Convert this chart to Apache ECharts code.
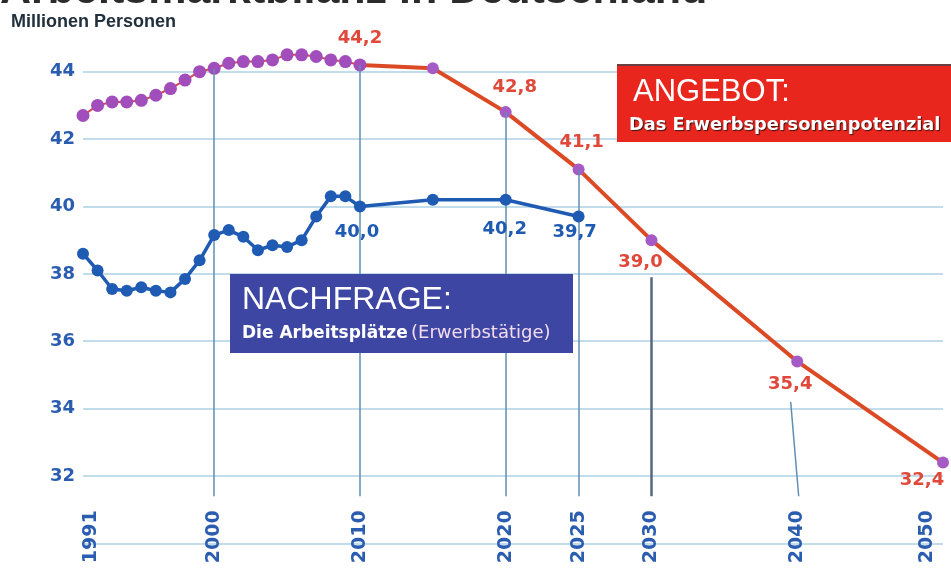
<!DOCTYPE html>
<html>
<head>
<meta charset="utf-8">
<script src="https://cdn.jsdelivr.net/npm/echarts@6/dist/echarts.min.js"></script>
<style>
html,body{margin:0;padding:0;background:#fff;}
#chart{width:951px;height:570px;}
</style>
</head>
<body>
<div id="chart"></div>
<script>
// ---- data ----
const histYears = [1991,1992,1993,1994,1995,1996,1997,1998,1999,2000,2001,2002,2003,2004,2005,2006,2007,2008,2009,2010];
const supplyHist = [42.7,43.0,43.1,43.1,43.15,43.3,43.5,43.75,44.0,44.1,44.25,44.3,44.3,44.35,44.5,44.5,44.45,44.35,44.3,44.2];
const demandHist = [38.6,38.1,37.55,37.5,37.6,37.5,37.45,37.85,38.4,39.15,39.3,39.1,38.7,38.85,38.8,39.0,39.7,40.3,40.3,40.0];
const supplyProjYears = [2010,2015,2020,2025,2030,2040,2050];
const supplyProj = [44.2,44.1,42.8,41.1,39.0,35.4,32.4];
const demandProjYears = [2015,2020,2025];
const demandProj = [40.2,40.2,39.7];
const xLabelYears = [1991,2000,2010,2020,2025,2030,2040,2050];
const guideYears = [2000,2010,2020,2025,2030,2040];
const supplyLabelYears = [2010,2020,2025,2030,2040,2050];
const demandLabelYears = [2010,2020,2025];
const titleText = 'Arbeitsmarktbilanz in Deutschland';
const unitText = 'Millionen Personen';

// ---- styling ----
const supplyLabelOffset = {2010:[0,-27],2020:[9,-25],2025:[3,-27],2030:[-11,22],2040:[-7,23],2050:[-21,18]};
const demandLabelOffset = {2010:[-3,26],2020:[-1,30],2025:[-4,16]};
const guideBottom = 31.4;
const fmt = v => v.toFixed(1).replace('.', ',');

const RED = '#e0483a', BLUE = '#1f5bb3', PURPLE = '#a14dbb';
const labelBase = {fontFamily:'DejaVu Sans', fontWeight:'bold', fontSize:18};

const supplyAll = {};
histYears.forEach((y,i)=>supplyAll[y]=supplyHist[i]);
supplyProjYears.forEach((y,i)=>supplyAll[y]=supplyProj[i]);

function mkPoint(year, value, offsets, color){
  const item = {value:[year, value]};
  if (offsets[year]) {
    item.label = Object.assign({show:true, position:'inside', offset:offsets[year], color:color,
      formatter: p => fmt(p.value[1])}, labelBase);
  }
  return item;
}

const supplyHistData = histYears.map((y,i)=> mkPoint(y, supplyHist[i], y===2010?supplyLabelOffset:{}, RED));
const supplyProjData = supplyProjYears.map((y,i)=> mkPoint(y, supplyProj[i], y===2010?{}:supplyLabelOffset, RED));
const demandYears = histYears.concat(demandProjYears);
const demandVals = demandHist.concat(demandProj);
const demandData = demandYears.map((y,i)=> mkPoint(y, demandVals[i], demandLabelOffset, BLUE));

// leader lines start below labels where a label sits under the point
const guideData = guideYears.map(y => {
  if (y === 2040) {
    return [{coord:[y-0.45, supplyAll[y]-1.2]},{coord:[y+0.1, guideBottom]}];
  }
  if (y === 2030) {
    return [{coord:[y, supplyAll[y]-1.1], lineStyle:{color:'#56697a', width:2.5}},{coord:[y, guideBottom]}];
  }
  return [{coord:[y, supplyAll[y]]},{coord:[y, guideBottom]}];
});

const gridColors = ['#acd0e4','#acd0e4','#acd0e4','#acd0e4','#acd0e4','#acd0e4','#acd0e4','#acd0e4','rgba(0,0,0,0)'];

const chart = echarts.init(document.getElementById('chart'), null, {renderer:'canvas'});
const option = {
  animation:false,
  backgroundColor:'#ffffff',
  grid:{left:83, right:8, top:4.3, bottom:26.6, containLabel:false},
  xAxis:{
    type:'value', min:1991, max:2050,
    splitLine:{show:false}, axisLine:{show:false, onZero:false}, axisTick:{show:false},
    axisLabel:{
      customValues:xLabelYears, rotate:90, margin:-33,
      color:'#2a5cb0', fontFamily:'DejaVu Sans', fontWeight:'bold', fontSize:19,
      formatter: v => v===1991 ? '{a|1991}' : (v===2050 ? '{b|2050}' : '{c|'+v+'}'),
      rich:{
        a:{color:'#2a5cb0', fontFamily:'DejaVu Sans', fontWeight:'bold', fontSize:19, padding:[16,0,0,0]},
        b:{color:'#2a5cb0', fontFamily:'DejaVu Sans', fontWeight:'bold', fontSize:19, padding:[0,0,32,0]},
        c:{color:'#2a5cb0', fontFamily:'DejaVu Sans', fontWeight:'bold', fontSize:19}
      }
    }
  },
  yAxis:{
    type:'value', min:30, max:46, interval:2,
    axisLine:{show:false}, axisTick:{show:false},
    splitLine:{show:true, lineStyle:{color:gridColors, width:1.5}},
    axisLabel:{margin:8, color:'#2a5cb0', fontFamily:'DejaVu Sans', fontWeight:'bold', fontSize:18,
      formatter: v => (v===30||v===46) ? '' : String(v)}
  },
  series:[
    {
      type:'line', name:'guides', data:[], silent:true, z:1,
      markLine:{silent:true, symbol:['none','none'], label:{show:false},
        lineStyle:{color:'#5f8fb2', width:1.5, type:'solid'}, data:guideData}
    },
    {
      type:'line', name:'Angebot (Projektion)', data:supplyProjData, z:3,
      symbol:'circle', symbolSize:12, showAllSymbol:true,
      itemStyle:{color:'#a65ac6'}, lineStyle:{color:'#dc4a25', width:4}
    },
    {
      type:'line', name:'Angebot', data:supplyHistData, z:4,
      symbol:'circle', symbolSize:13, showAllSymbol:true,
      itemStyle:{color:PURPLE}, lineStyle:{color:'#d8474a', width:2}
    },
    {
      type:'line', name:'Nachfrage', data:demandData, z:5,
      symbol:'circle', symbolSize:12, showAllSymbol:true,
      itemStyle:{color:BLUE}, lineStyle:{color:BLUE, width:3.5}
    }
  ],
  graphic:[
    {type:'text', x:0, y:13, z:10, style:{text:titleText, font:'bold 43px "Liberation Sans"', fill:'#2b2b2b', verticalAlign:'bottom'}},
    {type:'text', x:11, y:22, z:10, style:{text:unitText, font:'bold 18px "Liberation Sans"', fill:'#22303e', verticalAlign:'middle'}},
    {type:'rect', z:10, shape:{x:617, y:65, width:340, height:77}, style:{fill:'#e8261e'}},
    {type:'rect', z:10, shape:{x:617, y:64, width:340, height:2}, style:{fill:'#6a4040'}},
    {type:'text', x:633, y:92, z:11, style:{text:'ANGEBOT:', font:'normal 31px "Liberation Sans"', fill:'#ffffff', verticalAlign:'middle'}},
    {type:'text', x:629, y:125.5, z:11, style:{text:'Das Erwerbspersonenpotenzial', font:'bold 17.8px "DejaVu Sans"', fill:'#ffffff', verticalAlign:'middle',
      textShadowColor:'rgba(40,20,20,0.9)', textShadowOffsetX:1, textShadowOffsetY:1, textShadowBlur:1}},
    {type:'rect', z:10, shape:{x:230, y:274, width:343, height:79}, style:{fill:'#3d46a2'}},
    {type:'text', x:242, y:300, z:11, style:{text:'NACHFRAGE:', font:'normal 32px "Liberation Sans"', fill:'#ffffff', verticalAlign:'middle'}},
    {type:'text', x:242, y:333.5, z:11, style:{text:'{b|Die Arbeitsplätze} {r|(Erwerbstätige)}', verticalAlign:'middle',
      rich:{b:{fontFamily:'DejaVu Sans', fontWeight:'bold', fontSize:17, fill:'#ffffff'},
            r:{fontFamily:'DejaVu Sans', fontWeight:'normal', fontSize:18, fill:'#f3dcef'}}}}
  ]
};
chart.setOption(option);
</script>
</body>
</html>
